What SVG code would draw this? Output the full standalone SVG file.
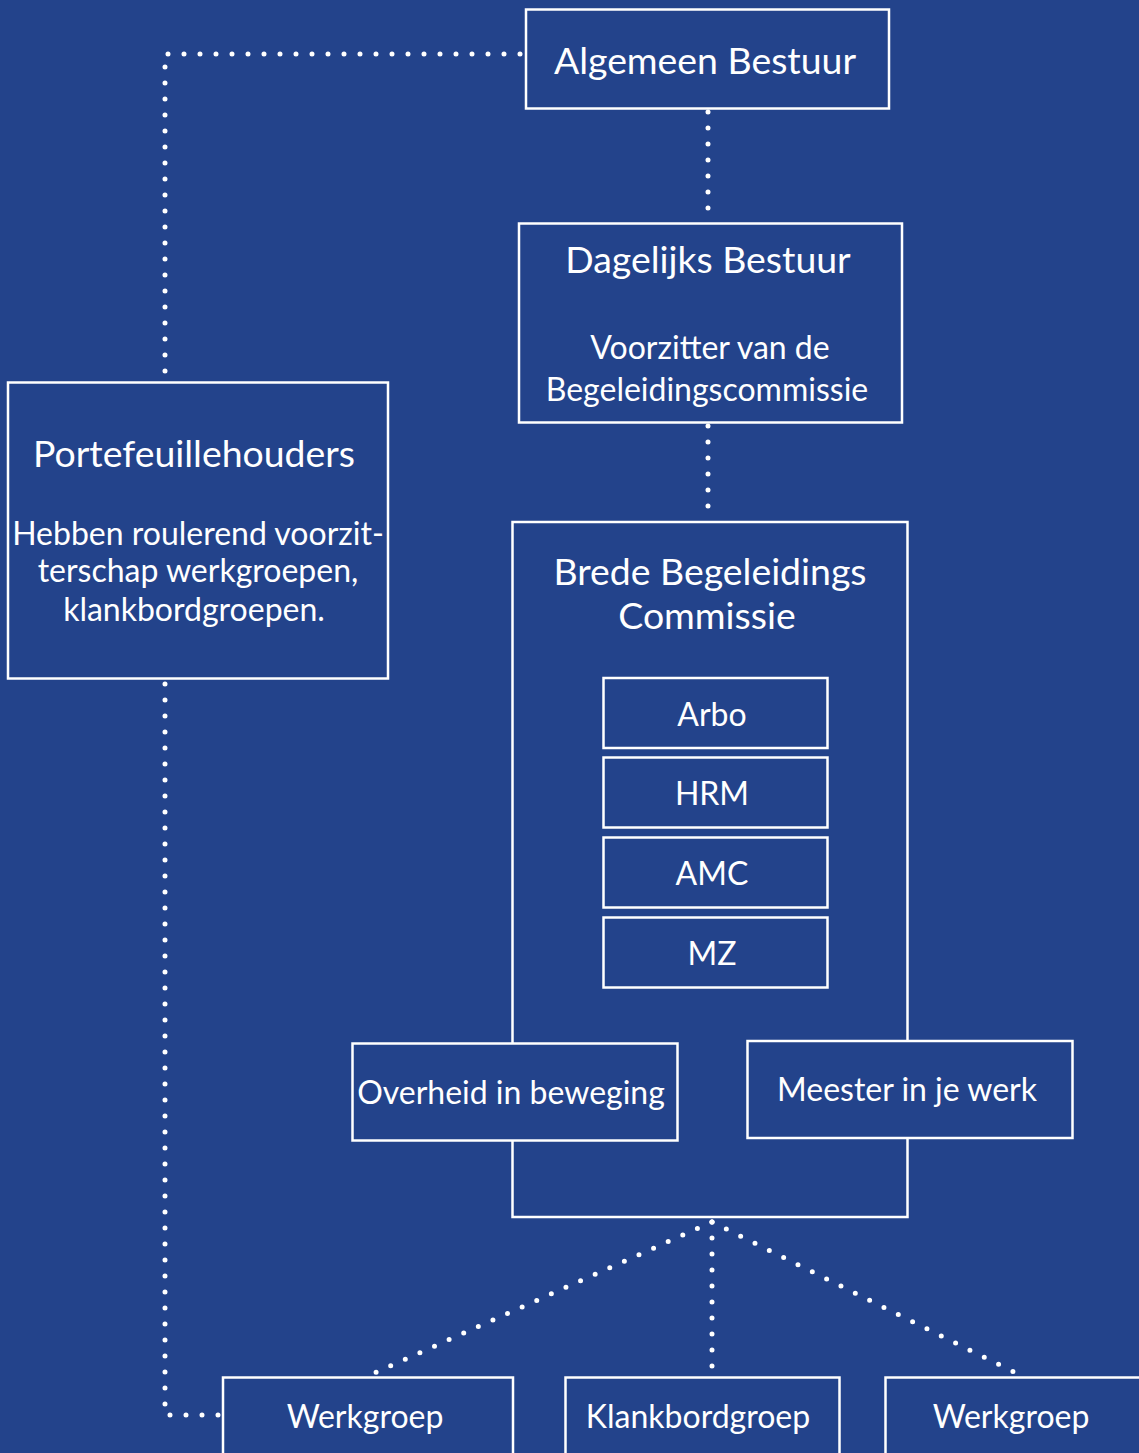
<svg xmlns="http://www.w3.org/2000/svg" width="1139" height="1453" viewBox="0 0 1139 1453">
<style>
.box{fill:none;stroke:#fff;stroke-width:2.5}
.dot{fill:none;stroke:#fff;stroke-width:5;stroke-linecap:round;stroke-dasharray:0 16}
text{font-family:Lato,"Open Sans","Liberation Sans",sans-serif;fill:#fff;text-anchor:middle}
.t{font-size:37.4px}
.s{font-size:32px}
</style>
<rect x="0" y="0" width="1139" height="1453" fill="#23438b"/>
<g id="connectors">
<path class="dot" d="M520,54 H165 V378"/>
<path class="dot" d="M708,112 V212"/>
<path class="dot" d="M708,426 V512"/>
<path class="dot" d="M165,684 V1415 H220"/>
<path class="dot" d="M712,1222 L370,1375"/>
<path class="dot" d="M712,1222 V1375"/>
<path class="dot" d="M712,1222 L1020,1375"/>
</g>
<g id="algemeen-bestuur">
<rect class="box" x="526" y="9.5" width="363" height="99"/>
<text class="t" x="705" y="74">Algemeen Bestuur</text>
</g>
<g id="dagelijks-bestuur">
<rect class="box" x="519" y="223.5" width="383" height="199"/>
<text class="t" x="708" y="273">Dagelijks Bestuur</text>
<text class="s" x="710" y="359">Voorzitter van de</text>
<text class="s" x="707" y="401">Begeleidingscommissie</text>
</g>
<g id="portefeuillehouders">
<rect class="box" x="8" y="382.5" width="380" height="296"/>
<text class="t" x="194" y="467">Portefeuillehouders</text>
<text class="s" x="198" y="545">Hebben roulerend voorzit-</text>
<text class="s" x="198" y="582">terschap werkgroepen,</text>
<text class="s" x="194" y="621">klankbordgroepen.</text>
</g>
<g id="brede-begeleidings-commissie">
<rect class="box" x="512.5" y="522" width="395" height="695"/>
<text class="t" x="710" y="585">Brede Begeleidings</text>
<text class="t" x="707" y="629">Commissie</text>
</g>
<g id="arbo">
<rect class="box" x="603.5" y="678" width="224" height="70"/>
<text class="s" x="712" y="726">Arbo</text>
</g>
<g id="hrm">
<rect class="box" x="603.5" y="757.5" width="224" height="70"/>
<text class="s" x="712" y="805">HRM</text>
</g>
<g id="amc">
<rect class="box" x="603.5" y="837.5" width="224" height="70"/>
<text class="s" x="712" y="885">AMC</text>
</g>
<g id="mz">
<rect class="box" x="603.5" y="917.5" width="224" height="70"/>
<text class="s" x="712" y="965">MZ</text>
</g>
<g id="overheid-in-beweging">
<rect class="box" x="352.5" y="1043.5" width="325" height="97" style="fill:#23438b"/>
<text class="s" x="511" y="1104">Overheid in beweging</text>
</g>
<g id="meester-in-je-werk">
<rect class="box" x="747.5" y="1041" width="325" height="97" style="fill:#23438b"/>
<text class="s" x="907" y="1101">Meester in je werk</text>
</g>
<g id="werkgroep-1">
<rect class="box" x="223" y="1377.5" width="290" height="90"/>
<text class="s" x="365" y="1428">Werkgroep</text>
</g>
<g id="klankbordgroep">
<rect class="box" x="565.5" y="1377.5" width="274" height="90"/>
<text class="s" x="698" y="1428">Klankbordgroep</text>
</g>
<g id="werkgroep-2">
<rect class="box" x="885.5" y="1377.5" width="270" height="90"/>
<text class="s" x="1011" y="1428">Werkgroep</text>
</g>
</svg>
